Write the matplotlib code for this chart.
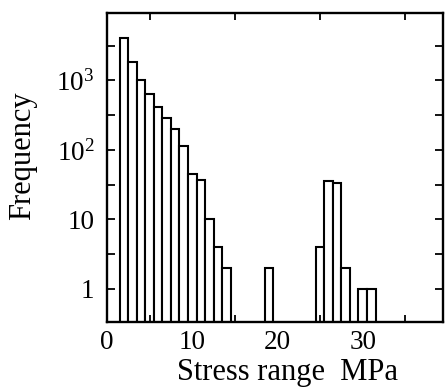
import matplotlib
matplotlib.use("Agg")
import matplotlib.pyplot as plt
from matplotlib.ticker import FixedLocator, FixedFormatter, NullFormatter

plt.rcParams['font.family'] = ['Liberation Serif', 'DejaVu Serif']
plt.rcParams['mathtext.fontset'] = 'custom'
plt.rcParams['mathtext.rm'] = 'Liberation Serif'
plt.rcParams['mathtext.it'] = 'Liberation Serif:italic'

# stress range bin (MPa) and counts
stress = [2, 3, 4, 5, 6, 7, 8, 9, 10, 11, 12, 13, 14, 19, 25, 26, 27, 28, 30, 31]
freq = [4100, 1830, 1000, 640, 420, 290, 200, 114, 45, 37, 10, 4, 2, 2, 4, 36, 33, 2, 1, 1]

ytick_vals = [1, 10, 100, 1000]
ytick_labels = ['1', '10', '10$^2$', '10$^3$']
half_decades = [10 ** (k / 2) for k in range(-1, 9, 2)]
xtick_vals = [0, 10, 20, 30]
xminor = [5, 10, 15, 20, 25, 30, 35]

fig = plt.figure(figsize=(4.46, 3.87), dpi=100)
ax = fig.add_axes([0.240, 0.168, 0.753, 0.798])

ax.set_yscale('log')
ax.bar(stress, freq, width=1.0, color='white', edgecolor='black', linewidth=1.5)

ax.set_xlim(0, 39.4)
ax.set_ylim(0.335, 9300)

ax.yaxis.set_major_locator(FixedLocator(ytick_vals))
ax.yaxis.set_major_formatter(FixedFormatter(ytick_labels))
ax.yaxis.set_minor_locator(FixedLocator(half_decades))
ax.yaxis.set_minor_formatter(NullFormatter())

ax.xaxis.set_major_locator(FixedLocator(xtick_vals))
ax.xaxis.set_minor_locator(FixedLocator(xminor))

ax.tick_params(axis='y', which='both', direction='in', length=6, width=1.3,
               left=True, right=True, labelsize=19.5, pad=9)
ax.tick_params(axis='x', which='major', direction='in', length=0,
               labelsize=19.5, pad=6)
ax.tick_params(axis='x', which='minor', direction='in', length=5, width=1.3,
               top=True, bottom=True)

for s in ax.spines.values():
    s.set_linewidth(1.7)

ax.set_ylabel('Frequency', fontsize=22)
ax.yaxis.set_label_coords(-0.253, 0.54)
ax.set_xlabel('Stress range  MPa', fontsize=22)
ax.xaxis.set_label_coords(0.536, -0.165)
ax.xaxis.label.set_va('center')
ax.yaxis.label.set_va('center')

fig.savefig('out.png', dpi=100)
